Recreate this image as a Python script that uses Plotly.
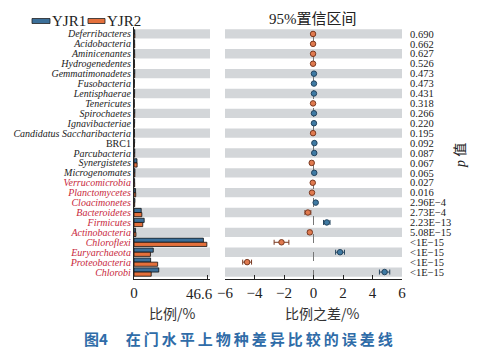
import plotly.graph_objects as go

phyla = ["Deferribacteres", "Acidobacteria", "Aminicenantes", "Hydrogenedentes",
         "Gemmatimonadetes", "Fusobacteria", "Lentisphaerae", "Tenericutes",
         "Spirochaetes", "Ignavibacteriae", "Candidatus Saccharibacteria", "BRC1",
         "Parcubacteria", "Synergistetes", "Microgenomates", "Verrucomicrobia",
         "Planctomycetes", "Cloacimonetes", "Bacteroidetes", "Firmicutes",
         "Actinobacteria", "Chloroflexi", "Euryarchaeota", "Proteobacteria", "Chlorobi"]
yjr1 = [0.5, 0.4, 0.4, 0.3, 0.5, 0.3, 0.4, 0.2, 0.5, 0.4, 0.3, 0.4,
        0.5, 1.9, 0.6, 0.4, 1.0, 0.6, 4.6, 6.5, 1.0, 44.3, 12.3, 10.6, 15.8]
yjr2 = [0.55, 0.45, 0.45, 0.35, 0.45, 0.25, 0.35, 0.25, 0.45, 0.35, 0.35, 0.33,
        0.45, 2.0, 0.55, 0.45, 1.1, 0.45, 5.0, 5.6, 1.25, 46.5, 10.5, 15.1, 11.0]
diff = [-0.03, -0.03, -0.03, -0.03, 0.03, 0.03, 0.03, -0.03, 0.03, 0.03, -0.03, 0.06,
        0.05, -0.12, 0.05, -0.05, -0.1, 0.15, -0.38, 0.9, -0.25, -2.17, 1.8, -4.5, 4.82]
err = [0.04, 0.04, 0.04, 0.03, 0.04, 0.03, 0.04, 0.03, 0.04, 0.03, 0.04, 0.04,
       0.05, 0.1, 0.05, 0.05, 0.08, 0.05, 0.2, 0.22, 0.12, 0.5, 0.3, 0.3, 0.35]
pvals = ["0.690", "0.662", "0.627", "0.526", "0.473", "0.473", "0.431", "0.318",
         "0.266", "0.220", "0.195", "0.092", "0.087", "0.067", "0.065", "0.027",
         "0.016", "2.96E−4", "2.73E−4", "2.23E−13", "5.08E−15", "<1E−15",
         "<1E−15", "<1E−15", "<1E−15"]
sig_alpha = 0.05
left_ticks = [0, 46.6]
left_ticktext = ["0", "46.6"]
right_ticks = [-6, -4, -2, 0, 2, 4, 6]
right_ticktext = ["−6", "−4", "−2", "0", "2", "4", "6"]

BLUE = "#3b6f99"
ORANGE = "#e4703c"
RED = "#c8283c"
GRAY_BAND = "#d3d6d9"
SERIF = "Liberation Serif"
CJK = "Noto Sans CJK SC"

W, H = 489, 355
OFF = 8  # page body margin
def px(x): return (x - OFF) / W
def py(y): return 1 - (y - OFF) / H

rows = list(range(len(phyla)))
sig_flags = [float(p.replace("<", "").replace("−", "-")) < sig_alpha for p in pvals]

def label(name, sig):
    t = name if name == "BRC1" else f"<i>{name}</i>"
    col = RED if sig else "#222222"
    return f"<span style='color:{col}'>{t}</span>"

fig = go.Figure()
fig.add_trace(go.Bar(y=rows, x=yjr1, orientation="h", name="YJR1",
                     marker=dict(color=BLUE, line=dict(color="#111111", width=0.8)),
                     xaxis="x", yaxis="y", showlegend=False))
fig.add_trace(go.Bar(y=rows, x=yjr2, orientation="h", name="YJR2",
                     marker=dict(color=ORANGE, line=dict(color="#111111", width=0.8)),
                     xaxis="x", yaxis="y", showlegend=False))

pos_idx = [i for i, d in enumerate(diff) if d >= 0]
neg_idx = [i for i, d in enumerate(diff) if d < 0]
for idx, fill, edge in [(pos_idx, "#3f7aa3", "#24445e"), (neg_idx, "#e07a4f", "#7a3a22")]:
    fig.add_trace(go.Scatter(
        x=[diff[i] for i in idx], y=[rows[i] for i in idx], mode="markers",
        marker=dict(size=5.5, color=fill, line=dict(color=edge, width=1)),
        error_x=dict(type="data", array=[err[i] for i in idx], color=edge,
                     thickness=1, width=2.5),
        xaxis="x2", yaxis="y2", showlegend=False))

shapes = []
for i in rows:
    if i % 2 == 0:
        for xr, yr in [("x domain", "y"), ("x2 domain", "y2")]:
            shapes.append(dict(type="rect", xref=xr, yref=yr, x0=0, x1=1,
                               y0=i - 0.47, y1=i + 0.47, fillcolor=GRAY_BAND,
                               line=dict(width=0), layer="below"))
shapes.append(dict(type="line", xref="x2", yref="y2 domain", x0=0, x1=0, y0=0, y1=0.985,
                   line=dict(color="#777777", width=1, dash="dash"), layer="below"))
# legend patches
shapes.append(dict(type="rect", xref="paper", yref="paper", x0=px(32), x1=px(50),
                   y0=py(23.5), y1=py(18.5), fillcolor=BLUE, line=dict(color="#222", width=0.8)))
shapes.append(dict(type="rect", xref="paper", yref="paper", x0=px(88), x1=px(105),
                   y0=py(23.5), y1=py(18.5), fillcolor=ORANGE, line=dict(color="#222", width=0.8)))

yr = [len(phyla) - 1 + 0.7, -0.7]
y_dom = [py(279), py(27)]

annotations = [
    dict(text=left_ticktext[1], x=left_ticks[1], xref="x", xshift=-8,
         y=py(294), yref="paper", xanchor="center", yanchor="middle", showarrow=False,
         font=dict(family=SERIF, size=15, color="#222")),
    dict(text="YJR1", x=px(50), y=py(21), xref="paper", yref="paper",
         xanchor="left", yanchor="middle", showarrow=False,
         font=dict(family=SERIF, size=15, color="#222")),
    dict(text="YJR2", x=px(105), y=py(21), xref="paper", yref="paper",
         xanchor="left", yanchor="middle", showarrow=False,
         font=dict(family=SERIF, size=15, color="#222")),
    dict(text="<span style='font-family:Liberation Serif'>95%</span>置信区间",
         x=px(313), y=py(18), xref="paper", yref="paper",
         xanchor="center", yanchor="middle", showarrow=False,
         font=dict(family=CJK, size=15, color="#222")),
    dict(text="比例/%", x=px(172), y=py(313), xref="paper", yref="paper",
         xanchor="center", yanchor="middle", showarrow=False,
         font=dict(family=CJK, size=14, color="#333")),
    dict(text="比例之差/%", x=px(322), y=py(313), xref="paper", yref="paper",
         xanchor="center", yanchor="middle", showarrow=False,
         font=dict(family=CJK, size=14, color="#333")),
    dict(text="<i style='font-family:Liberation Serif'>p</i> 值", x=px(459), y=py(156),
         xref="paper", yref="paper", xanchor="center", yanchor="middle",
         showarrow=False, textangle=-90,
         font=dict(family=CJK, size=14, color="#222")),
    dict(text="<b>图4\u2003\u2009在\u2009门\u2009水\u2009平\u2009上\u2009物\u2009种\u2009差\u2009异\u2009比\u2009较\u2009的\u2009误\u2009差\u2009线</b>",
         x=px(238), y=py(338), xref="paper", yref="paper",
         xanchor="center", yanchor="middle", showarrow=False,
         font=dict(family=CJK, size=15, color="#2f6ca8")),
]

fig.update_layout(
    width=W, height=H, margin=dict(l=0, r=0, t=0, b=0, autoexpand=False),
    paper_bgcolor="white", plot_bgcolor="white",
    barmode="group", bargap=0.16, bargroupgap=0.0,
    shapes=shapes,
    xaxis=dict(domain=[px(134), px(210)], range=[0, 48.5], tickvals=left_ticks,
               ticktext=[left_ticktext[0], ""], ticks="inside", ticklen=4, tickcolor="#222",
               showline=True, linecolor="#222", linewidth=1, showgrid=False,
               zeroline=False, anchor="y", automargin=False,
               tickfont=dict(family=SERIF, size=15, color="#222")),
    yaxis=dict(domain=y_dom, range=yr, tickvals=rows,
               ticktext=[label(n, s) for n, s in zip(phyla, sig_flags)],
               showline=True, linecolor="#222", linewidth=1.2, showgrid=False,
               zeroline=False, ticks="", anchor="x", automargin=False,
               tickfont=dict(family=SERIF, size=10, color="#222")),
    xaxis2=dict(domain=[px(225), px(402)], range=[-6, 6], tickvals=right_ticks,
                ticktext=right_ticktext, ticks="inside", ticklen=4, tickcolor="#222",
                showline=True, linecolor="#222", linewidth=1, showgrid=False,
                zeroline=False, anchor="y2", automargin=False,
                tickfont=dict(family=SERIF, size=15, color="#222")),
    yaxis2=dict(domain=y_dom, range=yr, tickvals=rows, ticktext=pvals, side="right",
                anchor="x2", showline=False, showgrid=False, zeroline=False,
                ticks="outside", ticklen=5, tickcolor="rgba(0,0,0,0)", automargin=False,
                tickfont=dict(family=SERIF, size=10.5, color="#222")),
    annotations=annotations,
)

fig.write_html("out.html")
